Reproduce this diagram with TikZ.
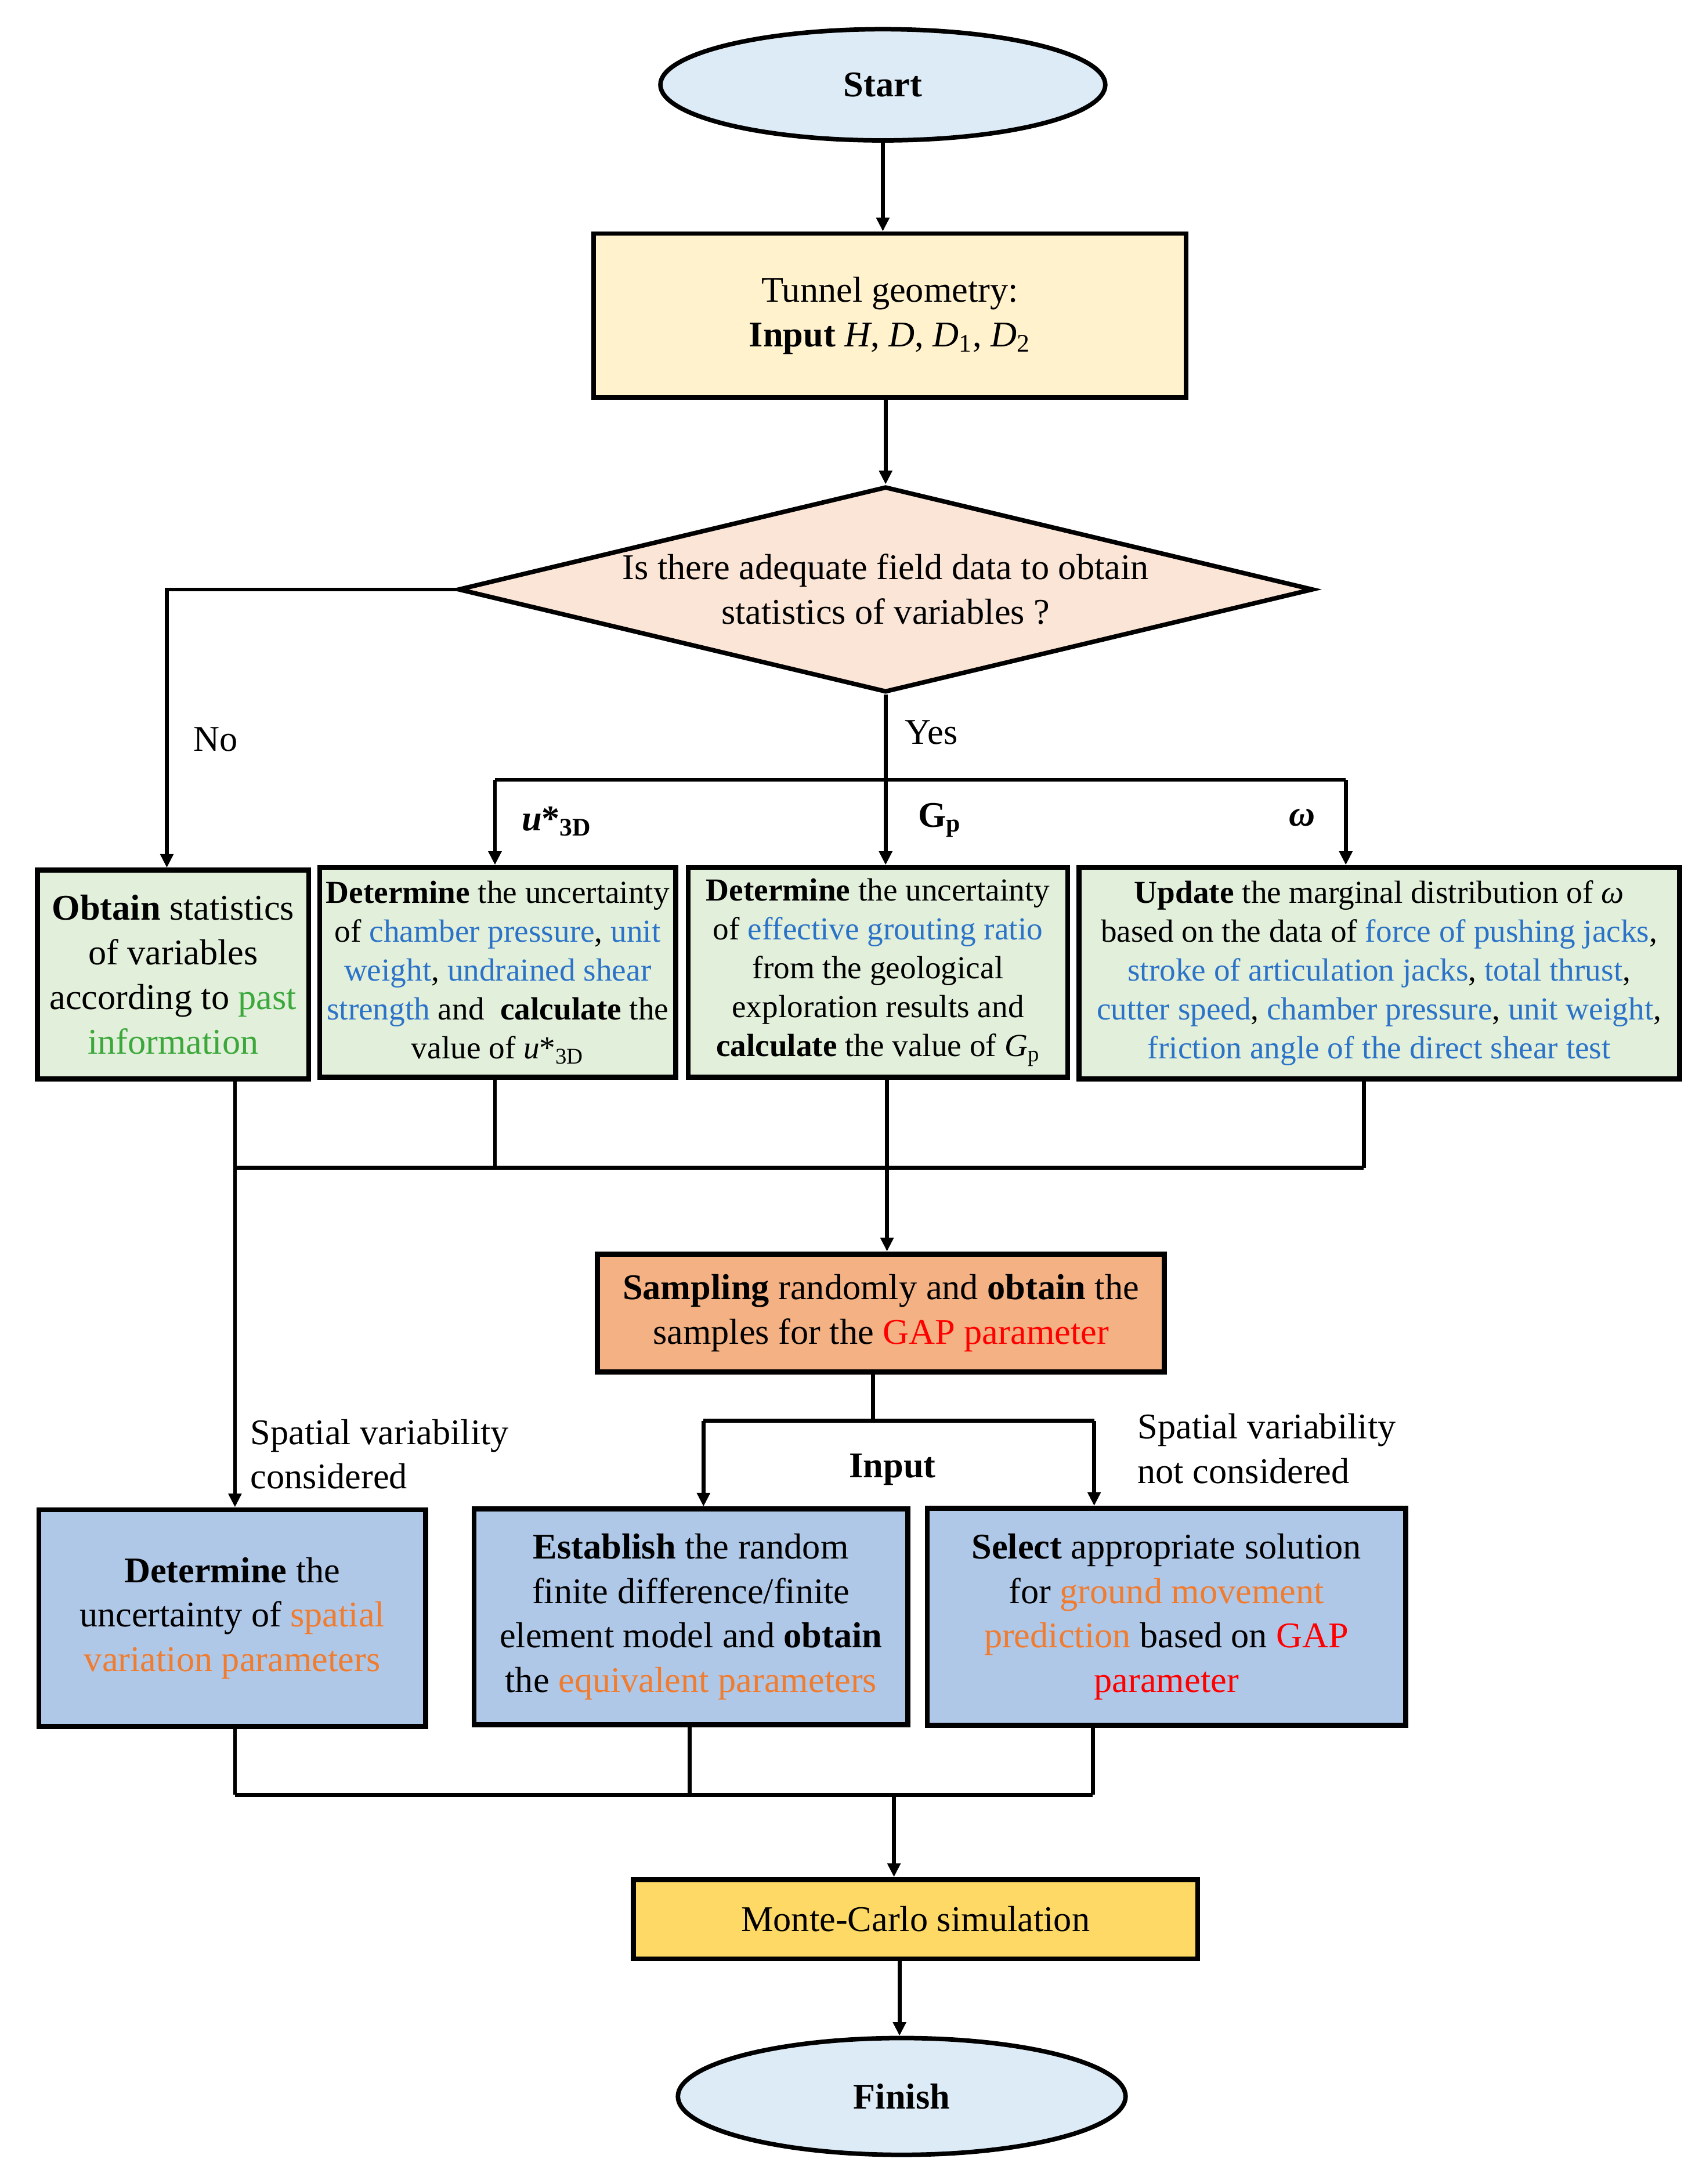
\documentclass[tikz,border=0pt]{standalone}
\usepackage{fontspec}
\setmainfont{Liberation Serif}
\usetikzlibrary{shapes.geometric,arrows.meta}
\newlength\upx
\setlength\upx{0.025cm}
\definecolor{cstart}{HTML}{DDEBF7}
\definecolor{ctunnel}{HTML}{FFF2CC}
\definecolor{cdiam}{HTML}{FBE5D6}
\definecolor{cgreen}{HTML}{E2EFDA}
\definecolor{csamp}{HTML}{F4B183}
\definecolor{cblue}{HTML}{B0C8E8}
\definecolor{cmc}{HTML}{FFD966}
\definecolor{tblue}{HTML}{2B73C8}
\definecolor{torange}{HTML}{F07C30}
\definecolor{tgreen}{HTML}{3CA83C}
\definecolor{tred}{HTML}{FF0000}
\newcommand{\tb}[1]{\textcolor{tblue}{#1}}
\newcommand{\tor}[1]{\textcolor{torange}{#1}}
\newcommand{\tg}[1]{\textcolor{tgreen}{#1}}
\newcommand{\tr}[1]{\textcolor{tred}{#1}}
\begin{document}
\begin{tikzpicture}[x=0.025cm,y=-0.025cm,
  bigfont/.style={font=\fontsize{18.5}{22.8}\selectfont},
  smallfont/.style={font=\fontsize{16.4}{19.9}\selectfont},
  conn/.style={line width=2pt},
  arr/.style={line width=2pt,-{Triangle[length=7pt,width=6.5pt]}},
  boxx/.style={draw, line width=2.6pt, inner sep=0pt, align=center, bigfont},
  gbox/.style={boxx, fill=cgreen},
  gsbox/.style={boxx, fill=cgreen, smallfont},
  bbox/.style={boxx, fill=cblue},
  term/.style={ellipse, draw, line width=2.3pt, fill=cstart, inner sep=0pt, bigfont},
  lbl/.style={inner sep=0pt, bigfont}
]
\useasboundingbox (0,0) rectangle (1227,1571);

% terminals and process nodes
\node[term, minimum width=320*\upx, minimum height=80*\upx] (start) at (635,61) {\textbf{Start}};
\node[boxx, line width=2.3pt, fill=ctunnel, minimum width=426*\upx, minimum height=118*\upx] (tunnel) at (640,227)
  {Tunnel geometry:\\\textbf{Input} \textit{H}, \textit{D}, \textit{D}\textsubscript{1}, \textit{D}\textsubscript{2}};
\node[diamond, draw, line width=2.3pt, fill=cdiam, inner sep=0pt, minimum width=615*\upx, minimum height=148*\upx] (dec) at (637,424) {};
\node[lbl, align=center] (dectext) at (dec.center) {Is there adequate field data to obtain\\statistics of variables ?};

\node[gbox, minimum width=195*\upx, minimum height=150*\upx] (b1) at (124.5,701)
  {\textbf{Obtain} statistics\\of variables\\according to \tg{past}\\\tg{information}};
\node[gsbox, minimum width=256*\upx, minimum height=151*\upx] (b2) at (358,699.5)
  {\textbf{Determine} the uncertainty\\of \tb{chamber pressure}, \tb{unit}\\\tb{weight}, \tb{undrained shear}\\\tb{strength} and \ \textbf{calculate} the\\value of \textit{u}*\textsubscript{3D}};
\node[gsbox, minimum width=273*\upx, minimum height=151*\upx] (b3) at (631.5,699.5)
  {\textbf{Determine} the uncertainty\\of \tb{effective grouting ratio}\\from the geological\\exploration results and\\\textbf{calculate} the value of \textit{G}\textsubscript{p}};
\node[gsbox, minimum width=432*\upx, minimum height=152*\upx] (b4) at (992,700)
  {\textbf{Update} the marginal distribution of \textit{ω}\\based on the data of \tb{force of pushing jacks},\\\tb{stroke of articulation jacks}, \tb{total thrust},\\\tb{cutter speed}, \tb{chamber pressure}, \tb{unit weight},\\\tb{friction angle of the direct shear test}};

\node[boxx, fill=csamp, minimum width=408*\upx, minimum height=85*\upx] (samp) at (633.6,944.5)
  {\textbf{Sampling} randomly and \textbf{obtain} the\\samples for the \tr{GAP parameter}};

\node[bbox, minimum width=278*\upx, minimum height=156*\upx] (b5) at (167,1164)
  {\textbf{Determine} the\\uncertainty of \tor{spatial}\\\tor{variation parameters}};
\node[bbox, minimum width=312*\upx, minimum height=155*\upx] (b6) at (497,1163)
  {\textbf{Establish} the random\\finite difference/finite\\element model and \textbf{obtain}\\the \tor{equivalent parameters}};
\node[bbox, minimum width=344*\upx, minimum height=156*\upx] (b7) at (839,1163)
  {\textbf{Select} appropriate solution\\for \tor{ground movement}\\\tor{prediction} based on \tr{GAP}\\\tr{parameter}};

\node[boxx, fill=cmc, minimum width=406*\upx, minimum height=57*\upx] (mc) at (658.5,1380.5) {Monte-Carlo simulation};
\node[term, minimum width=322*\upx, minimum height=84*\upx] (fin) at (648.6,1508) {\textbf{Finish}};

% helper coordinates
\coordinate (nox) at (120,0);
\coordinate (ybar) at (637,561);
\coordinate (yl) at (356,561);
\coordinate (yr) at (968,561);
\coordinate (m1) at (169,840);
\coordinate (c2) at (356,840);
\coordinate (c3) at (638,840);
\coordinate (c4) at (981,840);
\coordinate (s1) at (628,1022);
\coordinate (i1) at (506,1022);
\coordinate (i2) at (787,1022);
\coordinate (f1) at (169,1291);
\coordinate (f2) at (496,1291);
\coordinate (f3) at (786,1291);
\coordinate (f4) at (643,1291);
\coordinate (g) at (647,0);

% connectors
\draw[arr] (start.south) -- (start.south |- tunnel.north);
\draw[arr] (dec.north |- tunnel.south) -- (dec.north);
\draw[arr] (dec.west) -| (nox |- b1.north);
\draw[conn] (dec.south) -- (ybar);
\draw[conn] (yl) -- (yr);
\draw[arr] (yl) -- (yl |- b2.north);
\draw[arr] (ybar) -- (ybar |- b3.north);
\draw[arr] (yr) -- (yr |- b4.north);

\draw[arr] (m1 |- b1.south) -- (m1 |- b5.north);
\draw[conn] (c2 |- b2.south) -- (c2);
\draw[conn] (c3 |- b3.south) -- (c3);
\draw[conn] (c4 |- b4.south) -- (c4);
\draw[conn] (m1) -- (c4);
\draw[arr] (c3) -- (c3 |- samp.north);

\draw[conn] (s1 |- samp.south) -- (s1);
\draw[conn] (i1) -- (i2);
\draw[arr] (i1) -- (i1 |- b6.north);
\draw[arr] (i2) -- (i2 |- b7.north);

\draw[conn] (f1 |- b5.south) -- (f1);
\draw[conn] (f2 |- b6.south) -- (f2);
\draw[conn] (f3 |- b7.south) -- (f3);
\draw[conn] (f1) -- (f3);
\draw[arr] (f4) -- (f4 |- mc.north);
\draw[arr] (g |- mc.south) -- (g |- fin.north);

% labels
\node[lbl] (lno) at (155,532) {No};
\node[lbl] (lyes) at (670,527) {Yes};
\node[lbl, anchor=west] (lu) at (375,591) {\textbf{\textit{u}*\textsubscript{3D}}};
\node[lbl, anchor=west] (lg) at (660,590) {\textbf{G\textsubscript{p}}};
\node[lbl, anchor=west] (lw) at (927,588) {\textbf{\textit{ω}}};
\node[lbl, anchor=west, align=left] (lsv) at (180,1046) {Spatial variability\\considered};
\node[lbl] (linput) at (642,1057) {\textbf{Input}};
\node[lbl, anchor=west, align=left] (lsvn) at (818,1042) {Spatial variability\\not considered};
\end{tikzpicture}
\end{document}
